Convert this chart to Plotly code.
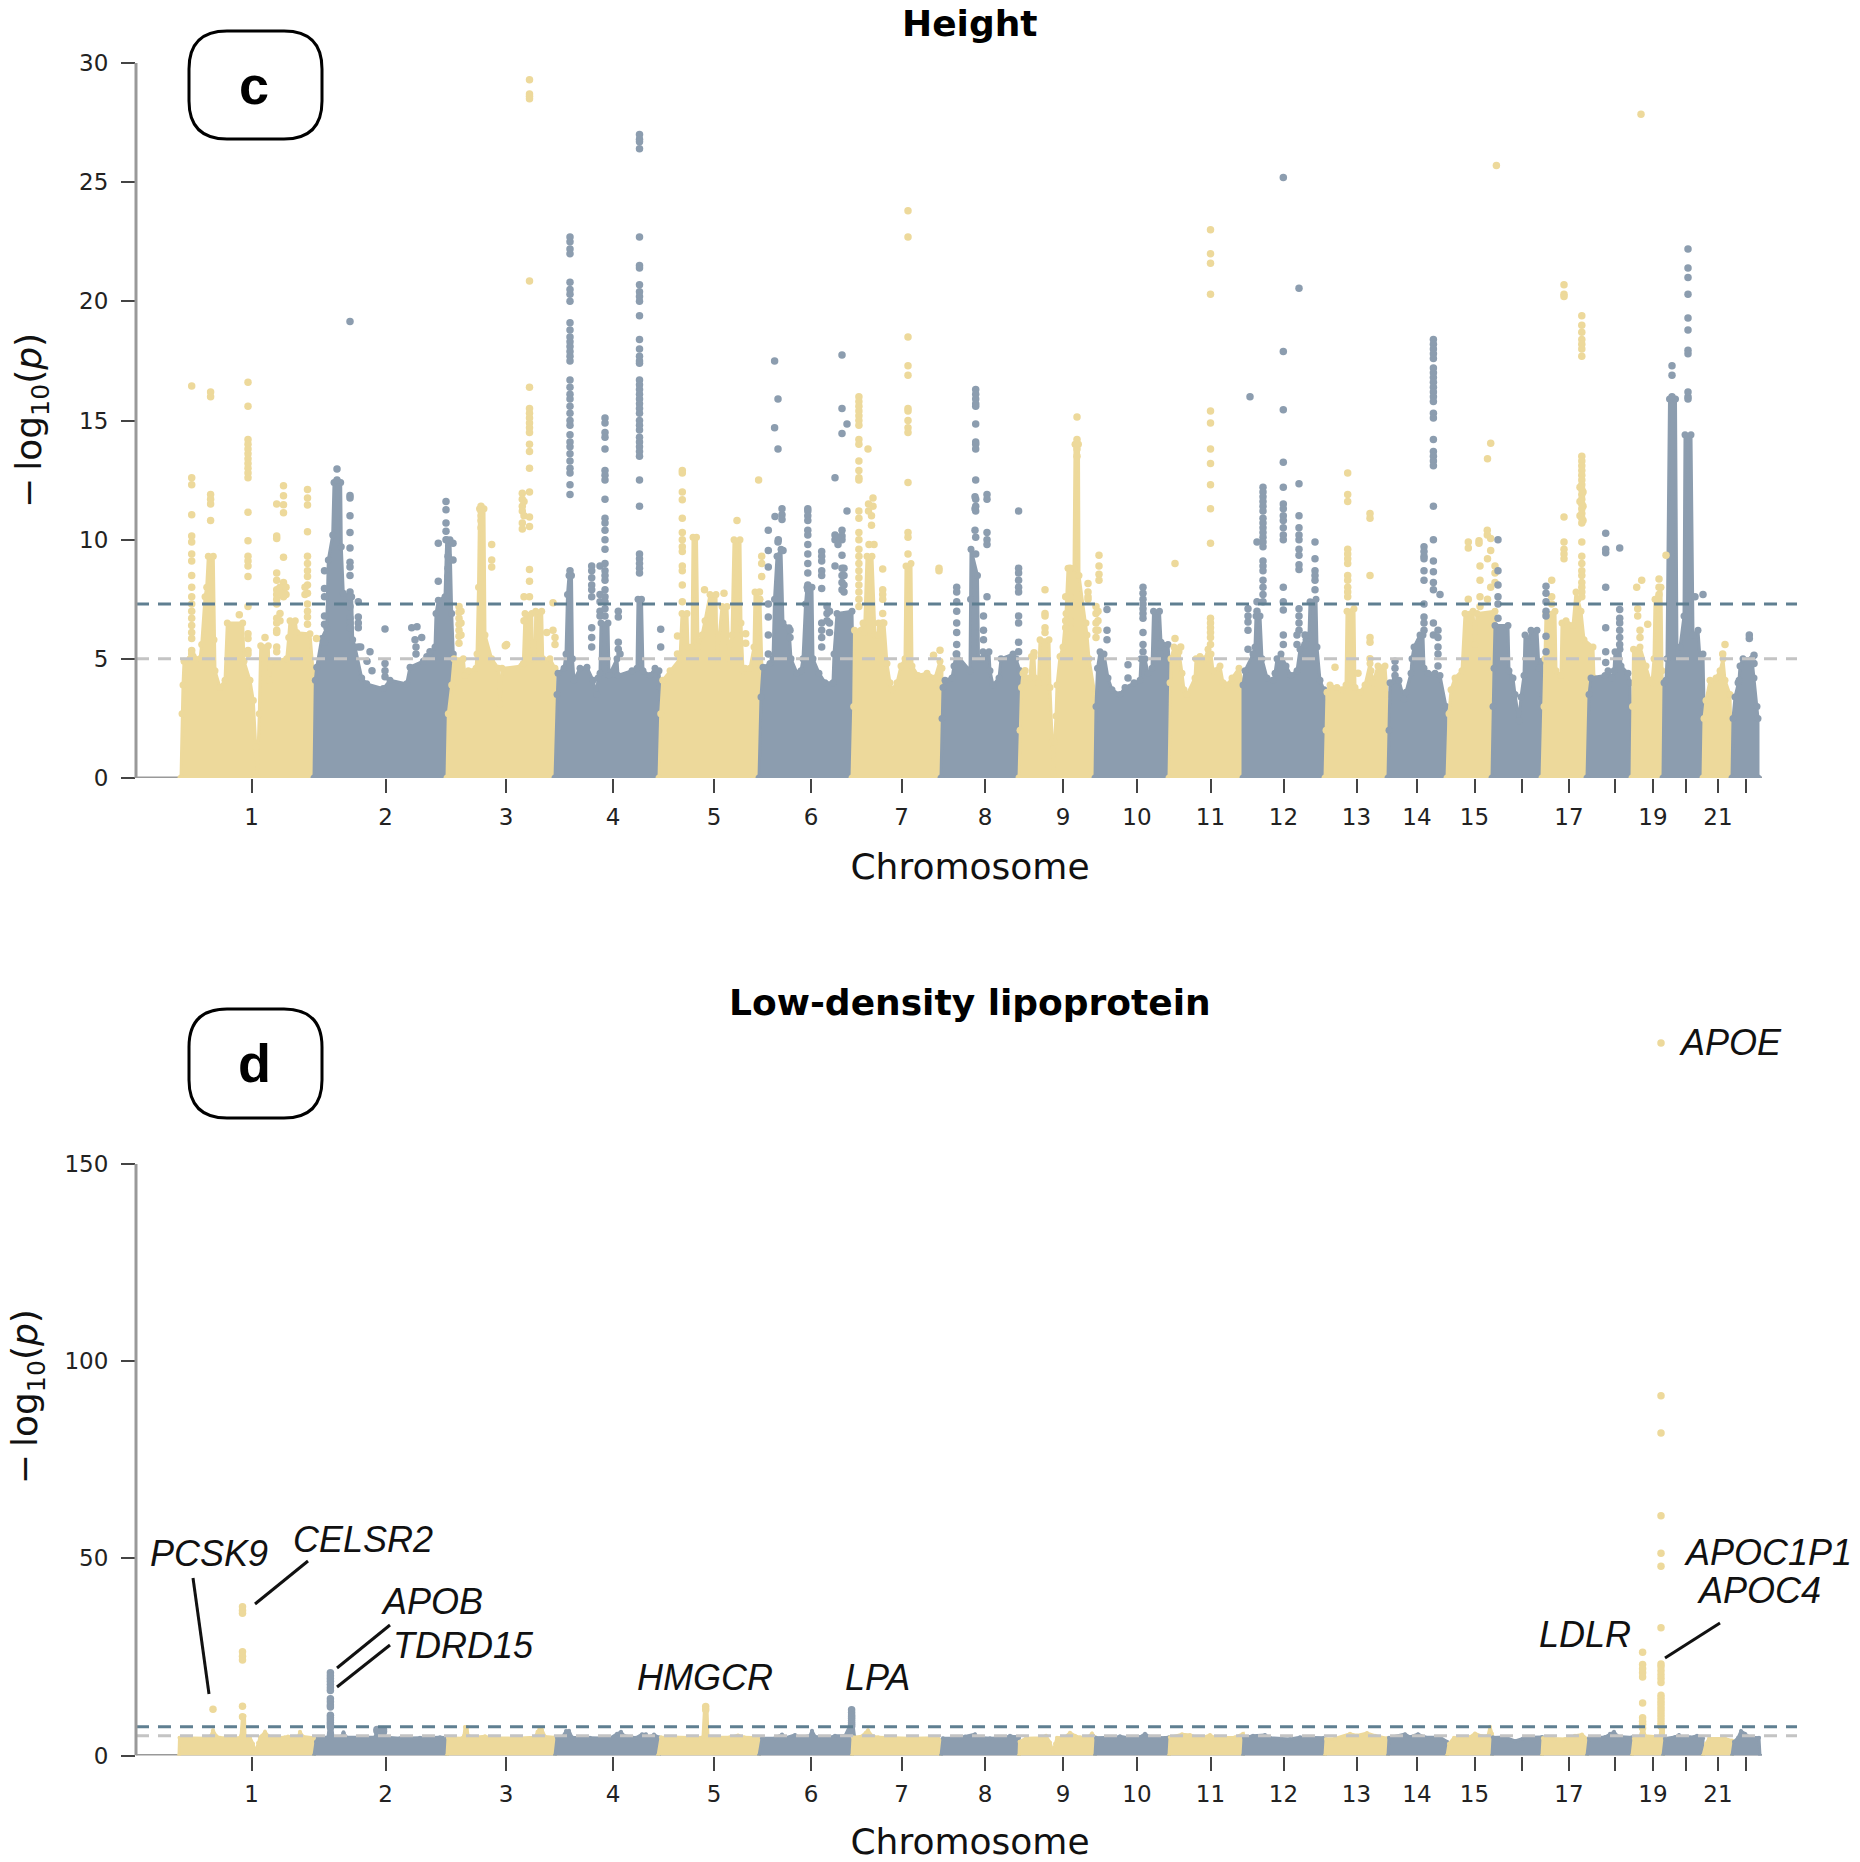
import plotly.graph_objects as go

BEIGE = "#EDD99B"
BLUE = "#8C9DAF"

chrom_ticks = [81.5, 215.5, 336, 443, 544, 641, 731.5, 815, 893, 967, 1040.5, 1113.5,
               1186.5, 1247, 1304.5, 1399, 1483, 1548]
chrom_labels = ["1", "2", "3", "4", "5", "6", "7", "8", "9", "10", "11", "12",
                "13", "14", "15", "17", "19", "21"]
chrom_unlabelled = [1352, 1444.5, 1516, 1576]
genome_end = 1592

# ---------- Height: upper envelope of the dense SNP mass, per chromosome
h01_x = [11, 12, 13, 14, 20, 23.3, 30, 31.7, 35, 36.7, 38.3, 43.3, 44, 45, 50, 55, 57.3, 72.7, 74, 80, 83.3, 86, 87.3, 89.3, 90.7, 98.3, 99.3, 101.7, 116.7, 118.7, 120, 125.3, 126.7, 140, 143.3, 144, 144]
h01_y = [0, 2.7, 3.9, 4.9, 5.0, 5.1, 5.0, 5.6, 7.6, 8.0, 9.3, 9.3, 5.8, 4.5, 3.8, 4.1, 6.5, 6.5, 4.9, 4.1, 3.25, 1.3, 0.1, 2.7, 5.55, 5.55, 4.1, 4.9, 5.0, 5.9, 6.6, 6.6, 6.1, 6.05, 4.5, 4.0, 0]
h02_x = [144, 145.3, 146.7, 151.7, 156.7, 158.3, 162.7, 164, 170.7, 171.3, 173.3, 181.7, 182.7, 185, 191.7, 196.7, 213.3, 220, 236.7, 240, 253.3, 256.7, 265, 266, 268.3, 275, 276.7, 280, 281.7, 283.3, 283, 279, 277]
h02_y = [0, 4.1, 4.65, 5.85, 6.3, 9.15, 10.2, 12.4, 12.4, 9.7, 7.75, 7.6, 5.8, 5.5, 4.2, 3.95, 3.75, 4.1, 3.95, 4.65, 4.9, 5.1, 5.5, 6.9, 7.46, 7.6, 10.0, 10.0, 6.9, 5.2, 3.8, 2.7, 0]
h03_x = [277, 278.3, 281.7, 284, 293.3, 295, 298.3, 306, 307, 308.5, 309.5, 314, 315, 321.7, 328.3, 330, 332, 351.7, 353.3, 355, 361.7, 362.7, 365, 365.7, 371.7, 372.7, 380, 385, 385]
h03_y = [0, 2.7, 3.9, 5.0, 5.0, 4.3, 4.5, 4.6, 5.2, 8.0, 11.3, 11.3, 6.0, 5.0, 4.6, 3.1, 4.6, 4.7, 4.8, 6.9, 6.9, 5.0, 5.0, 7.0, 7.0, 5.0, 5.0, 4.6, 0]
h04_x = [385, 387, 388, 394, 396, 397.5, 399, 401.5, 402.5, 404, 410, 417, 423, 426.7, 428, 430, 431, 438, 439, 447, 448, 462, 467, 468, 471.5, 473, 480, 485, 489, 490, 489]
h04_y = [0, 3.5, 4.4, 4.6, 5.2, 7.7, 8.5, 8.5, 5, 4.1, 4.6, 4.65, 4.1, 3.5, 4.2, 4.4, 6.5, 6.5, 4.3, 5, 4.3, 4.5, 4.6, 7.5, 7.5, 4.5, 4.3, 4.6, 4.5, 3.8, 0]
h05_x = [489, 490.7, 492.7, 500, 510, 512, 517, 518, 522, 523, 526.5, 528, 532, 535, 540, 546, 547, 552, 557, 559, 562, 564, 570, 571, 573, 575, 580, 584, 585, 590, 592, 590]
h05_y = [0, 2.7, 4.1, 4.5, 5.0, 6.9, 6.9, 5.5, 5.5, 10.1, 10.1, 5.5, 6.0, 6.6, 7.7, 7.7, 5.0, 7.2, 7.2, 5.0, 6.0, 10.0, 10.0, 6.5, 4.5, 4.6, 4.6, 5.5, 7.8, 7.5, 4.5, 0]
h06_x = [589, 591, 593, 600, 603, 604.5, 607, 611, 613, 619, 621, 627, 631, 633, 635.5, 637, 642, 643, 649, 655, 663, 664, 667, 682, 683, 682]
h06_y = [0, 3.4, 4.65, 4.8, 5.0, 7.5, 9.3, 9.6, 6.5, 6.3, 5.0, 4.4, 4.5, 5.0, 7.3, 8.0, 8.0, 5.0, 4.4, 4.0, 4.0, 5.2, 6.9, 7.0, 4.5, 0]
h07_x = [682, 683.7, 684.5, 691, 693, 694.5, 697, 702, 705, 708, 708.5, 714, 717, 720, 722, 727, 731, 735, 736, 741, 742, 748, 757, 765, 770, 772, 771]
h07_y = [0, 3, 6.2, 6.2, 6.5, 6.1, 9.3, 9.3, 6.0, 6.0, 6.5, 6.5, 4.8, 4.0, 3.7, 4.0, 4.7, 5.0, 8.9, 9.0, 4.7, 4.3, 4.4, 4.2, 4.9, 4.6, 0]
h08_x = [771, 772, 773, 775, 782, 784, 786, 800, 800.5, 801, 807.5, 808.5, 812, 813, 819, 820, 823, 829, 831, 843, 846, 850, 853, 849]
h08_y = [0, 2.5, 3.8, 4.1, 4.2, 4.7, 5.2, 4.5, 7.5, 9.6, 8.5, 5.0, 5.0, 5.3, 5.3, 4.5, 3.9, 4.2, 5.0, 5.2, 5.0, 4.5, 3.2, 0]
h09_x = [849, 850, 851.5, 853, 860, 861.5, 864, 865, 868.5, 870, 879, 880, 882, 883.5, 884.5, 886, 887, 890, 893, 896, 898, 904, 905, 908.5, 909, 916, 917, 919, 925, 926, 925]
h09_y = [0, 2, 3.8, 4.4, 4.2, 5.1, 5.1, 4.2, 4.0, 5.8, 5.8, 3.8, 1.5, 0.2, 1.5, 2.6, 3.9, 5.1, 5.5, 6.9, 8.8, 8.8, 14, 14, 8.5, 6.5, 6, 5.0, 3.5, 3.0, 0]
h10_x = [925, 926, 927.5, 930, 934, 938, 942, 950, 955, 964, 970, 971, 975, 978, 982, 983.5, 989.5, 991, 998, 999, 1000, 999]
h10_y = [0, 3.0, 4.6, 5.3, 5.2, 4.2, 3.7, 3.5, 3.8, 4.0, 4.1, 5, 5, 4.4, 4.6, 7.0, 7.0, 5.7, 5.6, 5, 4.0, 0]
h11_x = [999, 1000, 1001, 1004, 1009, 1012, 1014, 1017, 1025, 1026, 1030, 1035, 1038, 1041, 1043, 1050, 1053, 1057, 1062, 1069, 1073, 1073]
h11_y = [0, 4, 5, 5.5, 5.3, 4.4, 3.7, 3.5, 4.2, 5, 5.1, 5.0, 5.4, 5.2, 4.5, 4.7, 4.0, 3.9, 4.2, 4.6, 3.9, 0]
h12_x = [1073, 1073, 1075, 1083, 1085, 1086, 1090, 1092, 1097, 1103, 1105, 1107, 1111, 1116, 1121, 1127, 1130, 1136, 1139, 1140, 1146, 1147, 1150, 1154, 1156, 1155]
h12_y = [0, 3.9, 4.5, 5.2, 5.5, 6.8, 6.8, 5, 4.2, 4.1, 4.4, 5, 5.2, 4.7, 4.3, 4.5, 5.4, 5.8, 6.0, 7.4, 7.5, 5.5, 4.1, 3.7, 2, 0]
h13_x = [1155, 1156, 1157, 1160, 1167, 1172, 1176, 1177, 1184, 1185, 1190, 1195, 1200, 1201, 1203, 1208, 1215, 1217, 1218]
h13_y = [0, 2, 3.6, 3.9, 3.8, 3.7, 3.9, 7.0, 7.1, 3.8, 3.6, 3.9, 4.8, 4.5, 4.0, 4.7, 4.7, 3.5, 0]
h14_x = [1218, 1219, 1220, 1225, 1229, 1234, 1236, 1241, 1242, 1244, 1250, 1253, 1254, 1258, 1265, 1270, 1276, 1277]
h14_y = [0, 2, 4.0, 4.1, 4.1, 3.3, 3.6, 4.4, 5, 5.5, 6.0, 6, 4.6, 4.4, 4.4, 4.3, 3, 0]
h15_x = [1277, 1279, 1281, 1285, 1292, 1295, 1303, 1305, 1307, 1325, 1326, 1322]
h15_y = [0, 2.7, 3.7, 4.2, 4.5, 6.9, 7.0, 5.6, 6.9, 7.0, 4.5, 0]
h16_x = [1322, 1323, 1324, 1325, 1338, 1339, 1343, 1345, 1349, 1351, 1354, 1355, 1358, 1361, 1367, 1369, 1372, 1373, 1372]
h16_y = [0, 3, 4.6, 6.4, 6.4, 4.5, 4.2, 3.5, 2.4, 3.4, 4.3, 6.0, 5.7, 6.2, 6.2, 4.6, 4.9, 3.5, 0]
h17_x = [1372, 1374, 1375, 1376, 1385, 1386, 1391, 1392, 1396, 1403, 1406, 1408, 1411, 1414, 1423, 1424, 1417]
h17_y = [0, 3, 5, 6.9, 7.0, 4.5, 4.3, 6.5, 6.6, 6.4, 7.8, 7.5, 7.0, 5.8, 5.5, 4.2, 0]
h18_x = [1417, 1419, 1421, 1435, 1438, 1442, 1444, 1445, 1450, 1451, 1458, 1460, 1462]
h18_y = [0, 3.5, 4.2, 4.3, 4.5, 4.2, 4.5, 5.3, 5.4, 4.7, 4.4, 4, 0]
h19_x = [1462, 1462.5, 1463.5, 1470, 1476, 1480, 1482, 1484, 1485, 1491, 1492, 1494, 1493]
h19_y = [0, 3, 5.4, 5.5, 4.7, 4.1, 4.0, 5.0, 7.5, 8, 4.5, 2, 0]
h20_x = [1493, 1494, 1496, 1497, 1499.5, 1505.5, 1507, 1510, 1514, 1515, 1521, 1523, 1528, 1530, 1533, 1534, 1533]
h20_y = [0, 4, 4.1, 5, 15.9, 15.9, 5.0, 5.5, 6.8, 14.4, 14.4, 6.0, 6.2, 5.0, 5.2, 3, 0]
h21_x = [1533, 1534, 1536, 1540, 1546, 1550, 1553, 1555, 1560, 1562]
h21_y = [0, 2.5, 3.25, 4.1, 4.2, 4.5, 5.0, 4.1, 3.5, 0]
h22_x = [1562, 1563, 1565, 1568, 1569, 1570, 1573, 1582, 1584, 1587, 1588, 1588]
h22_y = [0, 2.5, 3.4, 4.0, 4.1, 4.7, 5.0, 5.0, 4.2, 3.0, 2.5, 0]

# ---------- Height: dots that stand out of the mass, as (position, [-log10 p ...])
h_beige_dots = [
    (21.7, [16.45, 12.6, 12.3, 11.05, 10.15, 9.9, 9.4, 9.1, 8.5, 8.0, 7.6, 7.3, 7.0, 6.7, 6.4, 6.1, 5.85, 5.35, 5.2]),
    (40.6, [16.2, 16.0, 11.9, 11.7, 11.5, 10.8]),
    (78, [16.6, 15.6, 14.2, 14.0, 13.8, 13.6, 13.4, 13.2, 13.0, 12.8, 12.6, 11.15, 9.95, 9.3, 9.1, 8.9, 8.45, 7.2, 6.05, 5.85, 5.35, 5.2]),
    (69.3, [6.85]), (95, [5.9]), (146.5, [5.85]),
    (106.7, [11.5, 10.15, 10.05, 8.6, 8.3, 7.9, 7.7, 7.5, 7.3, 6.7, 6.5, 6.2, 6.1, 5.5, 5.3]),
    (113.5, [12.26, 11.84, 11.46, 11.13, 9.26, 8.2, 8.0, 7.8, 7.6]),
    (110, [8.0, 7.8, 6.9, 6.6]), (116, [8.0, 7.7]),
    (137.5, [12.1, 11.75, 11.45, 10.33, 9.3, 9.0, 8.7, 8.45, 8.1, 7.75, 7.3, 7.0, 6.75, 6.45]),
    (135, [8.0, 7.7]),
    (289, [7.2, 6.95, 6.7, 6.45, 6.2, 5.95, 5.65]), (291, [7.0, 6.5, 6.0]),
    (321.7, [9.8, 9.15, 8.85]), (336.7, [5.6]), (335.3, [5.55]),
    (311, [11.4, 11.2, 11.0, 10.8, 10.5]),
    (352.3, [11.95, 11.7, 11.4, 11.2, 10.7, 10.45]),
    (354, [11.6, 11.0, 7.6, 6.6]),
    (359.5, [29.3, 28.7, 28.6, 28.5, 20.85, 16.4, 15.5, 15.3, 15.1, 14.9, 14.7, 14.5, 14.0, 13.7, 13.0, 12.0, 10.95, 10.55, 8.75, 8.26, 7.6]),
    (383, [7.35, 6.2]), (376.7, [6.1]), (385, [5.9, 5.6]),
    (507.5, [5.96, 5.2]), (534.5, [7.9]), (554, [7.75]), (567, [10.8]), (575.7, [6.05, 5.65]),
    (512.3, [12.9, 12.8, 12.0, 11.67, 10.9, 10.3, 10.0, 9.7, 9.5, 8.9, 8.7, 8.1, 7.4]),
    (588.6, [12.5]), (591.7, [9.3, 9.0, 8.45]), (589.5, [7.8, 7.5]),
    (688.9, [16.0, 15.8, 15.6, 15.4, 15.2, 15.0, 14.8, 14.2, 14.0, 13.3, 12.9, 12.6, 12.5, 11.2, 10.9, 10.3, 10.0, 9.6, 9.3, 9.0, 8.7, 8.4, 8.1, 7.8, 7.5, 7.2]),
    (698, [13.8]), (703, [11.75, 11.4]), (698.5, [11.5, 11.2]), (701.5, [11.0, 10.6]),
    (699, [9.8]), (704, [9.8]),
    (712.7, [8.77, 7.9, 7.7, 7.5, 6.9, 6.5]),
    (738, [23.8, 22.7, 18.5, 17.3, 16.9, 15.5, 15.4, 15.0, 14.7, 14.5, 12.4, 10.3, 10.1, 9.4]),
    (769, [8.8, 8.7]), (770, [5.36]), (763.5, [5.15]),
    (864, [5.25]), (875, [7.9, 6.9, 6.8, 6.3, 6.1]), (855, [4.5]),
    (907, [15.15, 14.2, 14.0, 13.8, 13.5]),
    (900, [8.8, 7.6, 6.6, 6.3]), (895.7, [7.6, 6.6, 6.3]), (918, [8.16, 7.8, 7.6, 7.5]),
    (929, [9.35, 8.9, 8.55, 8.3]), (926, [7.2, 6.9, 6.5, 6.2, 5.9]), (928, [7.0, 6.6, 6.2]),
    (1040.5, [23.0, 22.0, 21.6, 20.3, 15.4, 14.9, 13.8, 13.2, 12.3, 11.3, 9.85, 6.7, 6.5, 6.3, 6.1, 5.9, 5.6]),
    (1005, [9.0, 5.85]), (1010.7, [5.5]),
    (1177.7, [12.8, 11.9, 11.6, 9.6, 9.4, 9.2, 9.0, 8.5, 8.3, 8.0, 7.8, 7.6]),
    (1200, [11.1, 10.9, 8.5, 5.9, 5.7, 5.0]), (1165, [4.65]), (1188, [4.4]),
    (1298.3, [9.9, 9.65, 7.5]), (1309, [9.95, 9.85]), (1317.3, [10.4, 10.2]), (1320.7, [10.05, 9.55, 8.0, 14.05]),
    (1317.5, [9.2, 7.5, 13.4]), (1310, [8.9, 8.3, 7.6, 7.2]), (1325, [8.9, 8.6, 8.2]), (1326.4, [25.7]),
    (1394, [20.7, 20.3, 20.2, 10.95, 9.9, 9.6, 9.4, 9.2]),
    (1381.7, [8.3, 7.6, 7.3]),
    (1411.8, [19.4, 19.0, 18.7, 18.4, 18.2, 18.0, 17.7, 13.5, 13.3, 13.1, 12.9, 12.7, 12.5, 12.3, 12.1, 11.9, 11.7, 11.5, 11.3, 11.1, 10.9, 10.7, 9.9, 9.3, 9.0, 8.7, 8.5, 8.2, 8.0, 7.8, 7.6]),
    (1410, [12.2, 11.6, 11.0]), (1413, [12.0, 11.4, 10.8]),
    (1471, [27.85]), (1466.7, [8.0]), (1471.7, [8.3]), (1467.7, [7.1, 6.8]), (1477.7, [6.45]), (1470, [6.2, 5.9]),
    (1489, [8.35, 8.0, 7.7]), (1496, [9.35]),
    (1555, [5.6]), (1552.7, [5.2]),
]
h_blue_dots = [
    (167, [12.97, 12.5]), (180, [19.15, 11.85, 11.75, 11.0, 10.3, 9.65, 9.05, 8.85, 8.5, 7.8, 7.6, 7.2, 6.7, 6.5, 6.3]),
    (154.5, [8.7, 7.95, 7.6, 6.8, 6.45, 5.7]), (188.3, [7.4, 6.75, 6.5, 6.3, 5.5]), (190.7, [5.5]),
    (200, [5.3]), (197, [4.9]), (202, [4.5]), (215, [6.25, 4.8, 4.5, 4.25]),
    (241.7, [6.3]), (247, [6.35]), (245, [5.8]), (251.7, [5.9]), (246, [5.5, 5.2]), (260, [5.3]),
    (276, [11.6, 11.25, 10.7, 10.35, 10.0]), (268.3, [9.85, 8.25]), (283, [9.15, 9.85]), (278, [9.3, 8.8, 8.45, 8.0]),
    (400, [22.7, 22.5, 22.2, 22.0, 20.8, 20.5, 20.3, 20.0, 19.1, 18.8, 18.5, 18.3, 18.1, 17.9, 17.7, 17.5, 16.7, 16.4, 16.1, 15.9, 15.6, 15.3, 15.0, 14.8, 14.4, 14.1, 13.9, 13.6, 13.3, 13.0, 12.8, 12.3, 11.9, 8.7, 8.5]),
    (421.7, [8.9, 8.7, 8.4, 8.1, 7.9, 7.6, 6.3, 5.9, 5.5]), (430, [8.9, 7.7, 7.4, 7.0, 6.8]),
    (435, [15.1, 14.9, 14.5, 14.3, 13.8, 12.9, 12.7, 12.5, 11.7, 10.9, 10.7, 10.4, 10.0, 9.6, 9.0, 8.7, 8.5, 8.3, 7.9, 7.6, 7.4, 7.1, 6.8]),
    (448.3, [7.0, 6.75, 5.7, 5.4]), (450, [5.2]),
    (469.5, [27.0, 26.8, 26.7, 26.4, 22.7, 21.5, 21.4, 20.7, 20.4, 20.2, 20.0, 19.4, 18.4, 18.0, 17.7, 17.5, 17.4, 16.7, 16.5, 16.3, 16.1, 15.9, 15.7, 15.5, 15.3, 15.0, 14.8, 14.6, 14.3, 14.1, 13.9, 13.7, 13.5, 12.5, 11.4, 9.4, 9.2, 9.0, 8.8, 8.6]),
    (490.7, [6.24, 5.5]),
    (604.6, [17.5, 14.7]), (608, [15.9, 13.8, 9.9]),
    (598.3, [10.4, 9.55, 8.85, 7.3, 6.75, 6.0, 5.2]), (605, [10.97]), (612, [11.3, 11.05, 10.85]),
    (608.3, [10.0]), (613, [9.55]), (620, [6.2, 5.9]),
    (637.8, [11.3, 11.2, 11.0, 10.8, 10.4, 10.2, 9.8, 9.4, 9.0, 8.6, 8.1, 7.9]),
    (651.7, [9.5, 9.3, 9.1, 8.7, 8.5, 7.95, 6.5, 6.2, 5.9, 5.5]), (657, [7.2, 6.9, 6.6]), (659.5, [7.0, 6.5, 6.1]),
    (665, [12.6, 10.2, 8.9, 10.0]), (672, [17.75, 15.5, 14.45, 10.4, 10.15, 10.0, 9.35, 8.8, 8.5, 8.2, 7.9]),
    (668, [10.1, 9.8]), (674, [8.8, 8.5, 8.1, 7.8]), (677, [14.85, 11.2]),
    (786.7, [8.0, 7.8, 7.4, 7.0, 6.5, 6.1, 5.6, 5.2]),
    (805.7, [16.3, 16.1, 15.9, 15.7, 15.6, 14.85, 14.1, 14.0, 13.8, 12.5, 11.7, 11.4, 11.2, 10.1, 9.4]),
    (805, [11.8, 11.3, 10.4]), (817, [11.9, 11.7, 10.3, 10.0, 9.8, 7.6]), (813.5, [6.8, 6.2, 5.8]),
    (848.6, [11.2, 8.8, 8.6, 8.3, 8.0, 7.8, 6.8, 6.5, 5.7, 5.3]),
    (973, [8.0, 7.75, 7.5, 7.3, 7.1, 6.9, 6.7, 6.1, 5.6, 5.3]), (937, [7.07, 6.2, 5.8]), (958, [4.75, 4.2]),
    (990, [5.6, 5.2]),
    (1093, [12.2, 12.0, 11.8, 11.6, 11.4, 11.2, 10.9, 10.7, 10.5, 10.3, 10.1, 9.9, 9.7, 9.1, 8.9, 8.7, 8.3, 8.0, 7.7, 7.4]),
    (1087, [9.9, 7.4, 7.0]), (1078, [7.1, 6.8, 6.55, 6.2, 5.4]),
    (1113.3, [25.2, 17.9, 15.45, 13.25, 12.2, 11.5, 11.3, 11.0, 10.8, 10.5, 10.2, 10.0, 8.0, 7.4, 7.05, 6.0, 5.6]),
    (1129, [20.55, 12.35, 11.0, 10.5, 10.2, 10.0, 9.6, 9.35, 8.95, 8.75, 7.1, 6.8, 6.5, 6.2]),
    (1080, [16.0]), (1145, [9.9, 9.2, 8.7, 8.5, 8.3, 7.9]),
    (1127, [6.0, 5.6]), (1135, [6.0, 5.6]),
    (1225, [4.9, 4.6, 4.3]),
    (1263.4, [18.4, 18.2, 18.0, 17.8, 17.6, 17.2, 17.0, 16.8, 16.6, 16.4, 16.2, 16.0, 15.8, 15.3, 15.1, 14.2, 13.7, 13.5, 13.3, 13.1, 11.4, 10.0, 9.1, 8.65, 8.2, 7.9, 6.5, 6.0]),
    (1254, [9.7, 9.5, 9.3, 9.2, 8.7, 8.3, 7.3, 6.75, 6.5, 6.2]),
    (1270, [7.7]), (1268, [6.2, 5.9, 5.5, 5.2, 4.7]),
    (1328, [10.0, 8.7, 8.1, 7.6, 7.3, 6.7]),
    (1376, [8.05, 7.75, 7.4, 7.0, 6.8, 5.95, 5.3]),
    (1449.7, [9.65, 7.07, 6.7, 6.5, 6.2, 5.9, 5.6]), (1435.7, [10.27, 9.6, 9.45, 8.0, 6.3, 5.3, 4.85]),
    (1502, [17.3, 16.9, 16.0]),
    (1518, [22.2, 21.4, 21.0, 20.3, 19.3, 18.8, 17.95, 17.8, 16.2, 16.0, 15.9]),
    (1525, [7.6]), (1533, [7.7]),
    (1579.3, [6.0, 5.85]), (1584, [5.15, 4.8]),
]

# ---------- Low-density lipoprotein: same layout, same positions
l01_x = [9, 9.5, 38, 41, 43, 46, 50, 70, 71, 72.5, 74.5, 75, 80, 83, 85.5, 88, 90, 92, 95, 98, 102, 115, 118, 128, 130, 133, 144, 144]
l01_y = [0, 4.5, 4.4, 5, 6.4, 5.0, 4.5, 4.5, 5.0, 10, 10, 5, 4.5, 3, 0.8, 3.2, 4.6, 5, 6, 5, 4.5, 4.6, 4.8, 4.5, 6.0, 4.8, 4.5, 0]
l02_x = [144, 146, 148, 158, 159, 162, 163, 171, 173.5, 176, 205, 206.5, 210, 213, 216, 230, 250, 262, 270, 277, 277]
l02_y = [0, 3.5, 4.6, 4.6, 7, 7, 4.6, 4.7, 5.9, 4.7, 4.6, 6.2, 5.2, 6.4, 4.6, 4.4, 4.5, 4.6, 4.6, 4.5, 0]
l03_x = [277, 278, 292, 294, 295, 297, 298, 305, 315, 320, 345, 365, 367.5, 369.5, 372, 375, 385, 385.5]
l03_y = [0, 4.5, 4.4, 5, 7.2, 7.2, 5, 4.6, 4.9, 4.5, 4.4, 4.6, 6, 6.8, 6.5, 4.8, 4.6, 0]
l04_x = [385, 387, 392, 396, 399, 402, 420, 440, 447, 451, 454, 466, 472, 476, 478, 484, 489, 489]
l04_y = [0, 4.5, 4.5, 6.2, 6.3, 4.6, 4.5, 4.4, 5.5, 6.0, 5.0, 4.5, 5.4, 5.4, 4.6, 5.3, 4.6, 0]
l05_x = [488, 491, 500, 530, 533, 534.5, 537, 538, 560, 568, 574, 589, 589]
l05_y = [0, 4.6, 4.7, 4.5, 4.7, 12, 12, 4.6, 4.6, 5.1, 4.6, 4.5, 0]
l06_x = [589, 592, 605, 612, 616, 625, 629, 640, 642, 645, 660, 665, 675, 680, 682.5, 684.5, 682]
l06_y = [0, 4.4, 4.4, 5.3, 4.5, 5.2, 4.6, 5.0, 6.3, 4.8, 4.6, 5.0, 5, 7.5, 9, 4.8, 0]
l07_x = [682, 683, 692, 696, 698, 702, 708, 740, 768, 771, 770]
l07_y = [0, 4.6, 4.9, 5.8, 6.4, 5, 4.6, 4.4, 4.5, 3.8, 0]
l08_x = [771, 773, 790, 795, 805, 807, 820, 835, 840, 845, 849, 849]
l08_y = [0, 4.4, 4.4, 4.8, 5.4, 4.6, 4.4, 4.5, 5.0, 4.7, 4.5, 0]
l09_x = [849, 849.5, 856, 873, 876, 880, 883, 885, 887, 895, 900, 905, 910, 918, 922, 925, 925]
l09_y = [0, 3.5, 4.4, 4.5, 5.0, 3.3, 0.9, 3, 4.5, 4.6, 5.8, 5, 4.6, 4.6, 5.6, 4.7, 0]
l10_x = [925, 926, 945, 950, 958, 970, 975, 980, 990, 999, 999]
l10_y = [0, 4.5, 4.6, 4.9, 4.5, 4.7, 5.5, 4.7, 4.5, 4.6, 0]
l11_x = [999, 1000, 1012, 1020, 1030, 1040, 1045, 1065, 1073, 1073]
l11_y = [0, 4.6, 5.4, 5.2, 4.3, 5.2, 4.5, 4.6, 5.5, 0]
l12_x = [1073, 1074, 1083, 1095, 1100, 1120, 1130, 1154, 1155]
l12_y = [0, 4.5, 5.0, 5.2, 4.5, 4.2, 4.6, 4.5, 0]
l13_x = [1155, 1156, 1165, 1180, 1187, 1197, 1205, 1217, 1218]
l13_y = [0, 4.2, 4.3, 5.5, 5.1, 5.7, 5.0, 4.4, 0]
l14_x = [1218, 1219, 1235, 1240, 1248, 1255, 1270, 1277, 1277]
l14_y = [0, 4.5, 5.4, 4.7, 5.4, 4.6, 4.6, 3.5, 0]
l15_x = [1277, 1279, 1284, 1300, 1305, 1312, 1318, 1320, 1322, 1322]
l15_y = [0, 3, 4.5, 4.7, 5.6, 4.9, 5, 7.3, 5.5, 0]
l16_x = [1322, 1323, 1335, 1345, 1353, 1355, 1372, 1372]
l16_y = [0, 4.6, 4.7, 3.7, 4.3, 4.6, 4.7, 0]
l17_x = [1372, 1373, 1395, 1405, 1412, 1417, 1417]
l17_y = [0, 4.4, 4.2, 5.0, 5.3, 4.2, 0]
l18_x = [1417, 1419, 1435, 1440, 1444, 1448, 1462, 1462]
l18_y = [0, 4.4, 4.7, 5.5, 6.0, 4.8, 4.6, 0]
l19_x = [1462, 1464, 1470, 1473, 1475, 1490, 1491, 1493.5, 1493.5]
l19_y = [0, 4.3, 4.8, 7.5, 5, 4.7, 7, 7, 0]
l20_x = [1493, 1495, 1505, 1509, 1512, 1520, 1527, 1533, 1533]
l20_y = [0, 4.3, 4.7, 5.2, 4.4, 4.6, 5.0, 4.4, 0]
l21_x = [1533, 1536, 1539, 1555, 1562, 1562]
l21_y = [0, 3, 4.3, 4.3, 3.8, 0]
l22_x = [1562, 1564, 1568, 1571, 1575, 1580, 1589, 1590]
l22_y = [0, 3.5, 4.5, 6.2, 5.5, 4.6, 4.5, 0]

l_beige_dots = [
    (43, [11.7]),
    (72.5, [37.7, 36.8, 36.1, 26.3, 25.2, 24.2, 12.5, 9.8]),
    (535.7, [12.4, 11.6]),
    (1472.6, [26.2, 23.1, 22, 21, 19.9, 13.3, 9.6, 8.7, 7.9, 7]),
    (1491, [180.7, 91.2, 81.8, 60.8, 51.3, 48, 32.4, 23.2, 22.5, 21.5, 20.5, 19.5, 18.5, 15.3, 14.5, 13.7, 13, 12.2, 11.4, 10.6, 9.8, 9, 8.2, 7.4]),
]
l_blue_dots = [
    (160.4, [21, 20.2, 19.5, 18.8, 18, 17.2, 16.5, 14.4, 13.6, 12.8, 12.3, 10.2, 9.6, 9, 8.4, 7.8, 7.2]),
    (207, [6.6, 6.2]), (213.5, [6.5, 6.0]),
    (681.6, [11.6, 10.9, 10.3, 9.8, 9.4, 8.9, 8.4, 7.9, 7.4]),
]

height_env = [(h01_x, h01_y), (h02_x, h02_y), (h03_x, h03_y), (h04_x, h04_y), (h05_x, h05_y), (h06_x, h06_y),
              (h07_x, h07_y), (h08_x, h08_y), (h09_x, h09_y), (h10_x, h10_y), (h11_x, h11_y), (h12_x, h12_y),
              (h13_x, h13_y), (h14_x, h14_y), (h15_x, h15_y), (h16_x, h16_y), (h17_x, h17_y), (h18_x, h18_y),
              (h19_x, h19_y), (h20_x, h20_y), (h21_x, h21_y), (h22_x, h22_y)]
ldl_env = [(l01_x, l01_y), (l02_x, l02_y), (l03_x, l03_y), (l04_x, l04_y), (l05_x, l05_y), (l06_x, l06_y),
           (l07_x, l07_y), (l08_x, l08_y), (l09_x, l09_y), (l10_x, l10_y), (l11_x, l11_y), (l12_x, l12_y),
           (l13_x, l13_y), (l14_x, l14_y), (l15_x, l15_y), (l16_x, l16_y), (l17_x, l17_y), (l18_x, l18_y),
           (l19_x, l19_y), (l20_x, l20_y), (l21_x, l21_y), (l22_x, l22_y)]

suggestive = 5.0
genome_wide = 7.3

# ---------- figure geometry (page pixels; the body margin is removed below)
W, H = 1860, 1862
def px(x): return x / W
def py(y): return 1 - y / H

AX_L, AX_R = 136, 1804
U_MIN, U_MAX = -34, 1634
THR_END = 1627

fig = go.Figure()

def expand(cols):
    xs, ys = [], []
    for x, vals in cols:
        for v in vals:
            xs.append(x); ys.append(v)
    return xs, ys

def add_panel(env, beige, blue, xa, ya, vertex_size):
    for i, (x, y) in enumerate(env):
        c = BEIGE if i % 2 == 0 else BLUE
        fig.add_trace(go.Scatter(x=x, y=y, mode="lines+markers", fill="toself", fillcolor=c,
                                 line=dict(color=c, width=3), marker=dict(color=c, size=vertex_size, line=dict(width=0)),
                                 hoverinfo="skip", showlegend=False, xaxis=xa, yaxis=ya))
    for cols, c in ((beige, BEIGE), (blue, BLUE)):
        dx, dy = expand(cols)
        fig.add_trace(go.Scatter(x=dx, y=dy, mode="markers", marker=dict(color=c, size=7.5, line=dict(width=0)),
                                 showlegend=False, cliponaxis=False, xaxis=xa, yaxis=ya))
    fig.add_trace(go.Scatter(x=[U_MIN, THR_END], y=[genome_wide, genome_wide], mode="lines", showlegend=False,
                             line=dict(color="#5F7F91", width=3, dash="13px,9px"), xaxis=xa, yaxis=ya))
    fig.add_trace(go.Scatter(x=[U_MIN, THR_END], y=[suggestive, suggestive], mode="lines", showlegend=False,
                             line=dict(color="#C4C4C4", width=3, dash="13px,9px"), xaxis=xa, yaxis=ya))

add_panel(height_env, h_beige_dots, h_blue_dots, "x", "y", 7)
add_panel(ldl_env, l_beige_dots, l_blue_dots, "x2", "y2", 4)

TOP0, TOP1 = 778, 63
BOT0, BOT150, BOT_TOP = 1755.5, 1164, 1038
bot_max = 150 * (BOT0 - BOT_TOP) / (BOT0 - BOT150)

tick_font = dict(family="DejaVu Sans", size=23, color="#222222")
title_font = dict(family="DejaVu Sans", size=36, color="#111111")
ytitle = "−\u2009log<sub>10</sub>(<i>p</i>)"
common_x = dict(range=[U_MIN, U_MAX], tickmode="array", tickvals=chrom_ticks, ticktext=chrom_labels,
                ticks="outside", ticklen=14, tickwidth=2, tickcolor="#444444", showgrid=False, zeroline=False,
                showline=False, tickfont=tick_font, ticklabelstandoff=4, tickangle=0, automargin=False,
                minor=dict(tickmode="array", tickvals=chrom_unlabelled, ticks="outside", ticklen=14, tickwidth=2,
                           tickcolor="#444444", showgrid=False))
common_y = dict(ticks="outside", ticklen=14, tickwidth=2, tickcolor="#444444", showgrid=False, zeroline=False,
                showline=False, tickfont=tick_font, ticklabelstandoff=8, automargin=False)

fig.update_layout(
    width=W, height=H, autosize=False, margin=dict(l=0, r=0, t=0, b=0),
    paper_bgcolor="white", plot_bgcolor="white", showlegend=False,
    xaxis=dict(domain=[px(AX_L), px(AX_R)], anchor="y", **common_x,
               title=dict(text="Chromosome", font=title_font, standoff=25)),
    yaxis=dict(domain=[py(TOP0), py(TOP1)], anchor="x", range=[0, 30], tickmode="array",
               tickvals=[0, 5, 10, 15, 20, 25, 30], **common_y,
               title=dict(text=ytitle, font=title_font, standoff=26)),
    xaxis2=dict(domain=[px(AX_L), px(AX_R)], anchor="y2", **common_x,
                title=dict(text="Chromosome", font=title_font, standoff=25)),
    yaxis2=dict(domain=[py(BOT0), py(BOT_TOP)], anchor="x2", range=[0, bot_max], tickmode="array",
                tickvals=[0, 50, 100, 150], **common_y,
                title=dict(text=ytitle, font=title_font, standoff=15)),
)

shapes = []
spine = dict(color="#999999", width=3)
shapes.append(dict(type="line", xref="x", yref="y", x0=U_MIN, x1=genome_end, y0=0, y1=0, line=spine, layer="below"))
shapes.append(dict(type="line", xref="x2", yref="y2", x0=U_MIN, x1=genome_end, y0=0, y1=0, line=spine, layer="below"))
shapes.append(dict(type="line", xref="paper", yref="y", x0=px(AX_L), x1=px(AX_L), y0=0, y1=30, line=spine))
shapes.append(dict(type="line", xref="paper", yref="y2", x0=px(AX_L), x1=px(AX_L), y0=0, y1=150, line=spine))

def rounded(x0, y0, x1, y1, r):
    return (f"M {px(x0 + r)} {py(y0)} L {px(x1 - r)} {py(y0)} Q {px(x1)} {py(y0)} {px(x1)} {py(y0 + r)} "
            f"L {px(x1)} {py(y1 - r)} Q {px(x1)} {py(y1)} {px(x1 - r)} {py(y1)} "
            f"L {px(x0 + r)} {py(y1)} Q {px(x0)} {py(y1)} {px(x0)} {py(y1 - r)} "
            f"L {px(x0)} {py(y0 + r)} Q {px(x0)} {py(y0)} {px(x0 + r)} {py(y0)} Z")

for box in ((189, 31, 322, 139), (189, 1009, 322, 1118)):
    shapes.append(dict(type="path", xref="paper", yref="paper", path=rounded(*box, 38),
                       line=dict(color="black", width=3), fillcolor="white"))

connectors = [((193, 1578), (209, 1694)), ((308, 1561), (255, 1604)), ((390, 1625), (337, 1668)),
              ((390, 1645), (337, 1687)), ((1720, 1623), (1665, 1658))]
for (a, b), (c, d) in connectors:
    shapes.append(dict(type="line", xref="paper", yref="paper", x0=px(a), y0=py(b), x1=px(c), y1=py(d),
                       line=dict(color="#111111", width=3)))

annotations = []
def text(x, y, s, **font):
    annotations.append(dict(xref="paper", yref="paper", x=px(x), y=py(y), text=s, showarrow=False,
                            xanchor="center", yanchor="middle", font=font))

text(970, 24, "<b>Height</b>", family="DejaVu Sans", size=36, color="black")
text(970, 1002, "<b>Low-density lipoprotein</b>", family="DejaVu Sans", size=36, color="black")
text(254, 85, "<b>c</b>", family="Liberation Sans", size=54, color="black")
text(254, 1063, "<b>d</b>", family="Liberation Sans", size=54, color="black")

genes = [("PCSK9", 209, 1553), ("CELSR2", 363, 1539), ("APOB", 432, 1601), ("TDRD15", 463, 1645),
         ("HMGCR", 705, 1677), ("LPA", 877, 1677), ("APOE", 1730, 1042), ("APOC1P1", 1768, 1552),
         ("APOC4", 1759, 1590), ("LDLR", 1585, 1634)]
for g, x, y in genes:
    text(x, y, f"<i>{g}</i>", family="Liberation Sans", size=36, color="#111111")

fig.update_layout(shapes=shapes, annotations=annotations)
fig.write_html("out.html", config={"displayModeBar": False}, post_script="document.body.style.margin='0';")
